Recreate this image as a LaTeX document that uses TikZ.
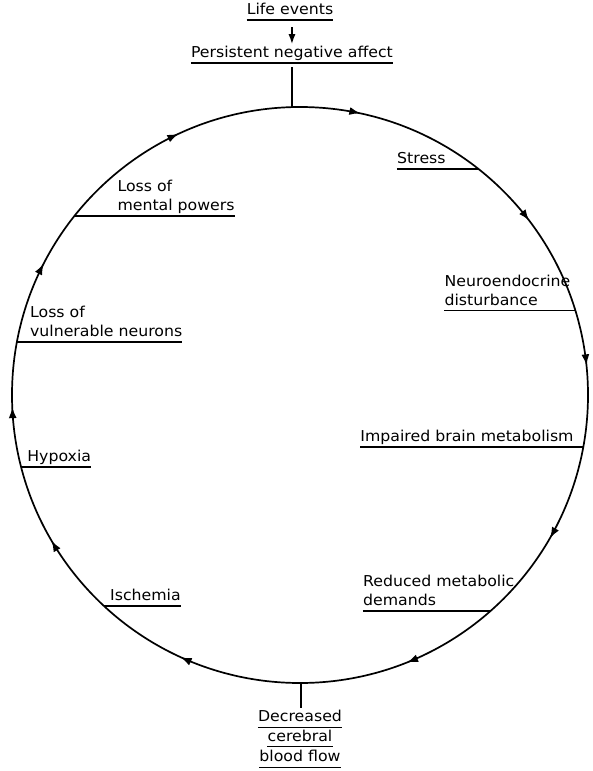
\documentclass[tikz,border=0pt]{standalone}
\usepackage{fontspec}
\setmainfont[FakeStretch=1.05]{DejaVu Sans}
\usetikzlibrary{arrows.meta,decorations.markings,calc}
\begin{document}
\begin{tikzpicture}[x=1pt,y=1pt,
  lbl/.style={inner xsep=0pt, inner ysep=0pt, font=\fontsize{15}{18.5}\selectfont, align=left},
  clbl/.style={lbl, align=center},
  uline/.style={line width=1.3pt},
  stem/.style={line width=1.6pt},
  tip/.style={-{Latex[length=10pt,width=7pt]}},
  ring/.style={line width=1.7pt, postaction={decorate}, decoration={markings,
    mark=at position 0.0336 with {\arrow{Latex[length=11pt,width=8pt]}},
    mark=at position 0.1464 with {\arrow{Latex[length=11pt,width=8pt]}},
    mark=at position 0.2336 with {\arrow{Latex[length=11pt,width=8pt]}},
    mark=at position 0.3328 with {\arrow{Latex[length=11pt,width=8pt]}},
    mark=at position 0.4394 with {\arrow{Latex[length=11pt,width=8pt]}},
    mark=at position 0.5680 with {\arrow{Latex[length=11pt,width=8pt]}},
    mark=at position 0.6656 with {\arrow{Latex[length=11pt,width=8pt]}},
    mark=at position 0.7433 with {\arrow{Latex[length=11pt,width=8pt]}},
    mark=at position 0.8253 with {\arrow{Latex[length=11pt,width=8pt]}},
    mark=at position 0.9306 with {\arrow{Latex[length=11pt,width=8pt]}}}}
]
\useasboundingbox (0,0) rectangle (592,-771);
\fill[white] (0,0) rectangle (592,-771);

\coordinate (O) at (300,-395);
% the cycle
\draw[ring] ($(O)+(90:288)$) arc[start angle=90, end angle=-270, radius=288];

% points on the circle
\coordinate (pTop)   at ($(O)+(91.6:288)$);
\coordinate (pBot)   at ($(O)+(270.2:288)$);
\coordinate (pStress) at ($(O)+(51.7:288)$);
\coordinate (pNeuro) at ($(O)+(17.0:288)$);
\coordinate (pImp)   at ($(O)+(-10.4:288)$);
\coordinate (pRed)   at ($(O)+(-48.6:288)$);
\coordinate (pIsch)  at ($(O)+(227.1:288)$);
\coordinate (pHyp)   at ($(O)+(194.5:288)$);
\coordinate (pVul)   at ($(O)+(169.4:288)$);
\coordinate (pMen)   at ($(O)+(141.6:288)$);

% top
\node[lbl, anchor=south] (pna) at ($(pTop)+(0,44)$) {Persistent negative affect\strut};
\draw[uline] (pna.south west) -- (pna.south east);
\draw[stem] (pTop) -- ($(pna.south)+(0,-4)$);
\node[lbl, anchor=south] (life) at (290,-20) {Life events\strut};
\draw[uline] (life.south west) -- (life.south east);
\draw[stem, tip] ($(life.south -| pna.north)+(0,-7)$) -- (pna.north);

% right side
\node[lbl, anchor=south west] (stress) at ([xshift=-81.5pt]pStress) {Stress\strut};
\draw[uline] (stress.south west) -- (pStress);
\node[lbl, anchor=south west] (neuro) at ([xshift=-131pt]pNeuro) {Neuroendocrine\\disturbance\strut};
\draw[uline] (neuro.south west) -- (pNeuro);
\node[lbl, anchor=south west] (imp) at ([xshift=-223pt]pImp) {Impaired brain metabolism\strut};
\draw[uline] (imp.south west) -- (pImp);
\node[lbl, anchor=south west] (red) at ([xshift=-127.5pt]pRed) {Reduced metabolic\\demands\strut};
\draw[uline] (red.south west) -- (pRed);

% bottom
\node[clbl, anchor=north] (dec1) at ($(pBot)+(-1,-25.5)$) {Decreased\strut};
\node[clbl, anchor=north] (dec2) at ([yshift=-0.5pt]dec1.south) {cerebral\strut};
\node[clbl, anchor=north] (dec3) at ([yshift=-1.5pt]dec2.south) {blood flow\strut};
\draw[uline] (dec1.south west) -- (dec1.south east);
\draw[uline] (dec2.south west) -- (dec2.south east);
\draw[uline] (dec3.south west) -- (dec3.south east);
\draw[stem] (pBot) -- (pBot |- dec1.north);

% left side
\node[lbl, anchor=south west] (isch) at ([xshift=6pt]pIsch) {Ischemia\strut};
\draw[uline] (pIsch) -- (isch.south east);
\node[lbl, anchor=south west] (hyp) at ([xshift=6pt]pHyp) {Hypoxia\strut};
\draw[uline] (pHyp) -- (hyp.south east);
\node[lbl, anchor=south west] (vul) at ([xshift=13pt]pVul) {Loss of\\vulnerable neurons\strut};
\draw[uline] (pVul) -- (vul.south east);
\node[lbl, anchor=south west] (men) at ([xshift=43pt]pMen) {Loss of\\mental powers\strut};
\draw[uline] (pMen) -- (men.south east);
\end{tikzpicture}
\end{document}
